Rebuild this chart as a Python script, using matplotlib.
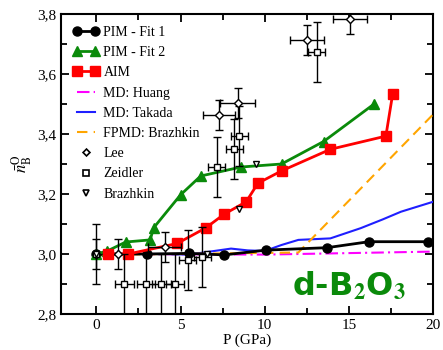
import matplotlib
matplotlib.use("Agg")
import matplotlib.pyplot as plt
from matplotlib.ticker import MultipleLocator, FuncFormatter
from matplotlib.lines import Line2D
from matplotlib.legend_handler import HandlerLine2D

# PIM - Fit 1
fit1_p = [0, 3.0, 5.5, 7.6, 10.1, 13.7, 16.2, 19.7]
fit1_n = [3.0, 3.0, 3.002, 2.997, 3.013, 3.021, 3.041, 3.041]
# PIM - Fit 2
fit2_p = [0, 0.65, 1.75, 3.2, 3.4, 5.0, 6.2, 8.6, 11.0, 13.5, 16.5]
fit2_n = [3.0, 3.01, 3.04, 3.047, 3.087, 3.197, 3.26, 3.29, 3.30, 3.375, 3.50]
# AIM
aim_p = [0.7, 1.9, 4.8, 6.5, 7.6, 8.9, 9.6, 11.0, 13.9, 17.2, 17.6]
aim_n = [3.0, 3.0, 3.035, 3.087, 3.133, 3.174, 3.236, 3.277, 3.349, 3.393, 3.532]
# MD: Huang
huang_p = [0, 10, 20]
huang_n = [3.0, 2.998, 3.008]
# MD: Takada
takada_p = [0, 2, 4, 5.5, 7, 8, 9, 10, 11, 12, 13.9, 15.7, 17, 18.1, 20]
takada_n = [3.0, 3.0, 3.0, 2.998, 3.01, 3.018, 3.012, 3.01, 3.03, 3.047, 3.052,
            3.086, 3.115, 3.141, 3.174]
# FPMD: Brazhkin
fpmd_p = [0, 12, 20]
fpmd_n = [2.997, 3.005, 3.465]
# Lee (experiment)
lee_p = [0, 1.3, 4.05, 7.3, 8.4, 12.5, 15.05]
lee_n = [3.0, 3.0, 3.023, 3.463, 3.504, 3.713, 3.783]
lee_pe = [0, 0, 1.0, 0.95, 1.05, 1.0, 1.0]
lee_ne = [0.05, 0.05, 0.05, 0.05, 0.05, 0.05, 0.05]
# Zeidler (experiment)
zei_p = [0, 1.67, 2.96, 3.87, 4.66, 5.44, 6.29, 7.14, 8.2, 8.5, 13.1]
zei_n = [3.0, 2.9, 2.9, 2.9, 2.9, 2.98, 2.99, 3.29, 3.35, 3.393, 3.674]
zei_pe = [0, 0.55, 0.55, 0.55, 0.55, 0.5, 0.5, 0.5, 0.5, 0.5, 0.5]
zei_ne = [0.1, 0.1, 0.1, 0.1, 0.1, 0.1, 0.1, 0.1, 0.1, 0.1, 0.1]
# Brazhkin (experiment)
bra_p = [0, 6.6, 8.5, 9.5]
bra_n = [3.0, 3.0, 3.15, 3.30]

plt.rcParams['font.family'] = ['Liberation Serif', 'DejaVu Serif']
plt.rcParams['mathtext.fontset'] = 'stix'

fig = plt.figure(figsize=(4.43, 3.5), dpi=100)
ax = fig.add_axes([0.1377, 0.1029, 0.8397, 0.857])

l_huang, = ax.plot(huang_p, huang_n, color='#ff00ff', lw=1.5, ls=(0, (6, 2, 1, 2)), zorder=3)
l_tak, = ax.plot(takada_p, takada_n, color='#1f1fff', lw=1.5, zorder=3)
l_fpmd, = ax.plot(fpmd_p, fpmd_n, color='#ffa500', lw=1.5, ls=(0, (5, 3)), zorder=3)

l_fit1, = ax.plot(fit1_p, fit1_n, color='black', lw=2, marker='o', ms=6.5, zorder=4)
l_fit2, = ax.plot(fit2_p, fit2_n, color='#0a8a0a', lw=2, marker='^', ms=7, zorder=4)
l_aim, = ax.plot(aim_p, aim_n, color='#ff0000', lw=2, marker='s', ms=6.5, zorder=4)

ax.errorbar(lee_p, lee_n, xerr=lee_pe, yerr=lee_ne, fmt='D', ms=4, mfc='white', mec='black',
            ecolor='black', elinewidth=1, capsize=3, mew=1, zorder=5)
ax.errorbar(zei_p, zei_n, xerr=zei_pe, yerr=zei_ne, fmt='s', ms=5, mfc='white', mec='black',
            ecolor='black', elinewidth=1, capsize=3, mew=1, zorder=5)
ax.plot(bra_p, bra_n, ls='none', marker='v', ms=5, mfc='white', mec='black', mew=1, zorder=6)

ax.set_xlim(-2.1, 20)
ax.set_ylim(2.8, 3.8)
ax.xaxis.set_major_locator(MultipleLocator(5))
ax.xaxis.set_minor_locator(MultipleLocator(2.5))
ax.yaxis.set_major_locator(MultipleLocator(0.2))
ax.yaxis.set_minor_locator(MultipleLocator(0.1))
ax.yaxis.set_major_formatter(FuncFormatter(lambda v, pos: ('%.1f' % v).replace('.', ',')))
ax.tick_params(which='both', direction='in', top=True, right=True, labelsize=11, width=1.3)
ax.tick_params(which='major', length=6)
ax.tick_params(which='minor', length=4)
for s in ax.spines.values():
    s.set_linewidth(1.5)

ax.set_xlabel('P (GPa)', fontsize=11, labelpad=1)
ax.set_ylabel(r'$\bar{n}_{\mathrm{B}}^{\mathrm{O}}$', fontsize=12, labelpad=2)

# legend proxies for the experimental symbols (single marker, no error bars)
p_lee = Line2D([], [], ls='none', marker='D', ms=3.5, mfc='white', mec='black', mew=1.2)
p_zei = Line2D([], [], ls='none', marker='s', ms=4, mfc='white', mec='black', mew=1.2)
p_bra = Line2D([], [], ls='none', marker='v', ms=5, mfc='white', mec='black', mew=1.2)

handles = [l_fit1, l_fit2, l_aim, l_huang, l_tak, l_fpmd, p_lee, p_zei, p_bra]
labels = ['PIM - Fit 1', 'PIM - Fit 2', 'AIM', 'MD: Huang', 'MD: Takada', 'FPMD: Brazhkin',
          'Lee', 'Zeidler', 'Brazhkin']
one = HandlerLine2D(numpoints=1)
ax.legend(handles, labels, loc='upper left', frameon=False, fontsize=10, numpoints=2,
          handlelength=1.9, handletextpad=0.3, labelspacing=0.52, borderaxespad=0.45,
          handler_map={p_lee: one, p_zei: one, p_bra: one})

ax.text(15.0, 2.89, r'd-B$_\mathbf{2}$O$_\mathbf{3}$', color='#0a8a0a', fontsize=23,
        fontweight='bold', family='DejaVu Sans', ha='center', va='center', zorder=7)

fig.savefig('out.png', dpi=100)
